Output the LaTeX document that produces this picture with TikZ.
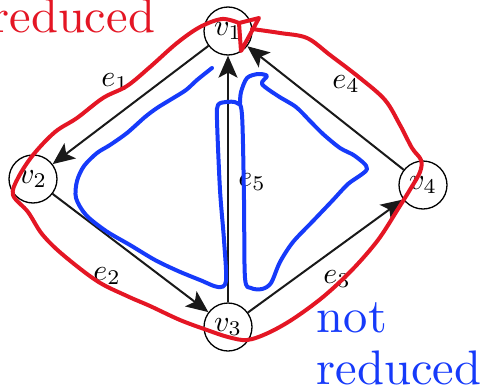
\RequirePackage{fix-cm}
\documentclass[tikz,border=0pt]{standalone}
\usetikzlibrary{arrows.meta}
\definecolor{penred}{RGB}{228,22,36}
\definecolor{penblue}{RGB}{22,58,250}
\newcommand{\biglab}[1]{\scalebox{3.0}{#1}}
\tikzset{
  vtx/.style={circle,draw,line width=1.3pt,minimum size=48pt,inner sep=0pt},
  edgearrow/.style={line width=2pt,black!90,-{Stealth[length=22pt,width=19pt,inset=5pt]}},
  redpen/.style={penred,line width=4pt,line cap=round,line join=round},
  bluepen/.style={penblue,line width=4pt,line cap=round,line join=round},
  bigtext/.style={scale=4.85,inner sep=0pt},
}
\begin{document}
\begin{tikzpicture}[x=1pt,y=-1pt]
  \useasboundingbox (0,0) rectangle (489,388);
  \clip (0,0) rectangle (489,388);
  % ---- graph ----
  \node[vtx] (v1) at (228,31) {\biglab{$v_1$}};
  \node[vtx] (v2) at (33,179) {\biglab{$v_2$}};
  \node[vtx] (v3) at (228,327) {\biglab{$v_3$}};
  \node[vtx] (v4) at (423,185) {\biglab{$v_4$}};
  \draw[edgearrow] (v1) -- (v2);
  \draw[edgearrow] (v2) -- (v3);
  \draw[edgearrow] (v3) -- (v1);
  \draw[edgearrow] (v3) -- (v4);
  \draw[edgearrow] (v4) -- (v1);
  \node (e1) at (115,82) {\biglab{$e_1$}};
  \node (e2) at (107,276) {\biglab{$e_2$}};
  \node (e3) at (337,279) {\biglab{$e_3$}};
  \node (e4) at (346,84) {\biglab{$e_4$}};
  \node (e5) at (252,182) {\biglab{$e_5$}};
  % ---- red stroke round the whole graph ----
  \draw[redpen] plot[smooth,tension=0.55] coordinates {(252,29) (280,33) (307,38) (330,55) (360,78) (385,100)
    (400,125) (412,148) (421,160) (420,172) (411,188) (398,209) (378,240) (352,270) (323,297) (293,319)
    (268,333) (247,340) (228,337) (207,330) (180,320) (150,306) (127,296) (97,281) (62,254) (42,234)
    (28,212) (13,195) (18,178) (33,155) (55,132) (77,118) (103,98) (127,86) (150,67) (177,43) (200,27)
    (222,19) (239,23)} -- (259,18) -- (241,51) -- (239,23);
  % ---- blue stroke inside ----
  \draw[bluepen] plot[smooth,tension=0.5] coordinates {(212,68) (197,80) (186,90) (170,100) (157,108) (145,117)
    (127,133) (110,145) (97,153) (84,166) (77,181) (76,198) (86,215) (106,231) (130,245) (155,260)
    (178,271) (200,280) (218,287) (226,281) (224,240) (220,190) (217,120) (218,105) (226,102) (237,103)
    (242,115) (244,200) (245,278) (251,288) (262,289) (271,283) (280,262) (293,242) (313,221) (333,200)
    (348,184) (367,169) (355,156) (340,148) (323,134) (310,121) (296,107) (278,96) (262,84) (267,76)
    (258,74) (247,78) (241,92) (240,103)};
  % ---- texts ----
  \node[bigtext,penred,anchor=base east] (redlbl) at (156,32) {reduced};
  \node[bigtext,penblue,anchor=base west] (notlbl) at (316,332) {not};
  \node[bigtext,penblue,anchor=base west] (redlbl2) at (316,384) {reduced};
\end{tikzpicture}
\end{document}
